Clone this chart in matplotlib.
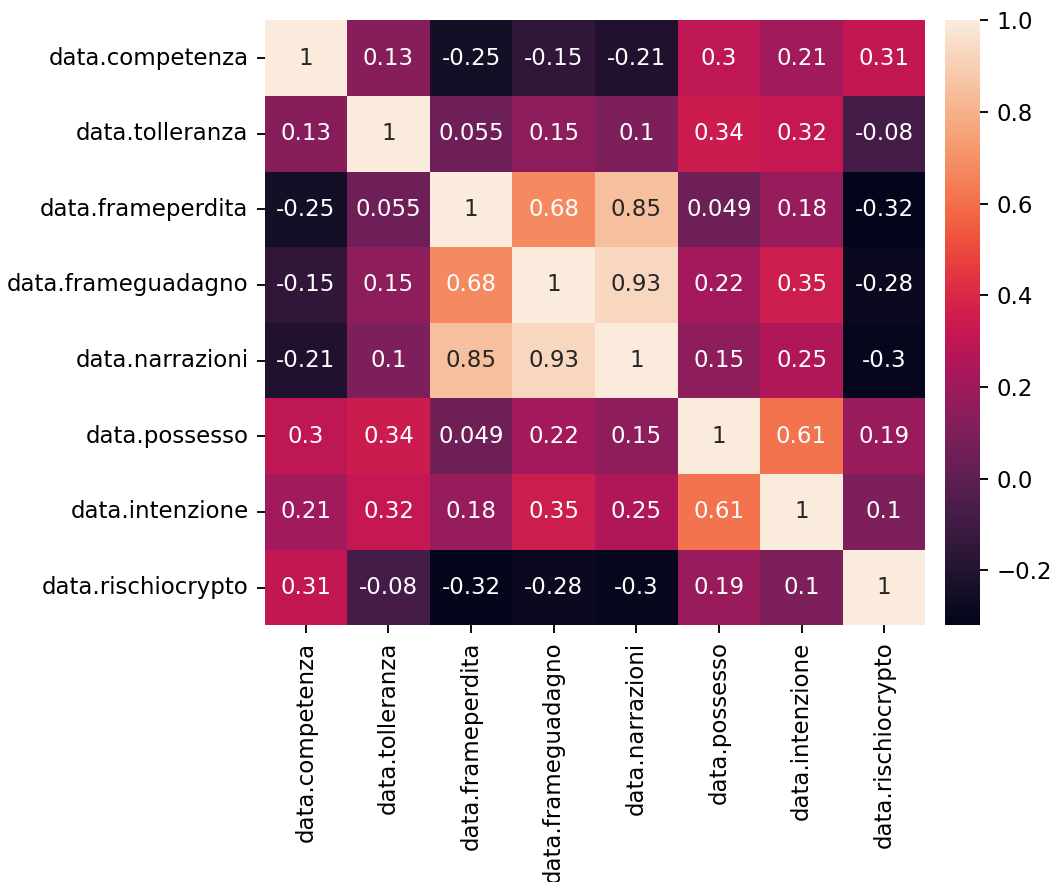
import numpy as np
import matplotlib
matplotlib.use("Agg")
import matplotlib.pyplot as plt
import seaborn as sns

labels = ["data.competenza", "data.tolleranza", "data.frameperdita",
          "data.frameguadagno", "data.narrazioni", "data.possesso",
          "data.intenzione", "data.rischiocrypto"]

corr_rows = [
    [1, 0.13, -0.25, -0.15, -0.21, 0.3, 0.21, 0.31],
    [0.13, 1, 0.055, 0.15, 0.1, 0.34, 0.32, -0.08],
    [-0.25, 0.055, 1, 0.68, 0.85, 0.049, 0.18, -0.32],
    [-0.15, 0.15, 0.68, 1, 0.93, 0.22, 0.35, -0.28],
    [-0.21, 0.1, 0.85, 0.93, 1, 0.15, 0.25, -0.3],
    [0.3, 0.34, 0.049, 0.22, 0.15, 1, 0.61, 0.19],
    [0.21, 0.32, 0.18, 0.35, 0.25, 0.61, 1, 0.1],
    [0.31, -0.08, -0.32, -0.28, -0.3, 0.19, 0.1, 1],
]

corr = np.array(corr_rows, dtype=float)

dpi = 165
fig = plt.figure(figsize=(1054 / dpi, 882 / dpi), dpi=dpi)
ax = fig.add_axes([0.251, 0.291, 0.627, 0.686])
cax = fig.add_axes([0.897, 0.291, 0.033, 0.686])

sns.heatmap(corr, annot=True, xticklabels=labels, yticklabels=labels,
            ax=ax, cbar_ax=cax)
ax.set_xticklabels(labels, rotation=90)
ax.set_yticklabels(labels, rotation=0)

fig.savefig("out.png", dpi=dpi)
